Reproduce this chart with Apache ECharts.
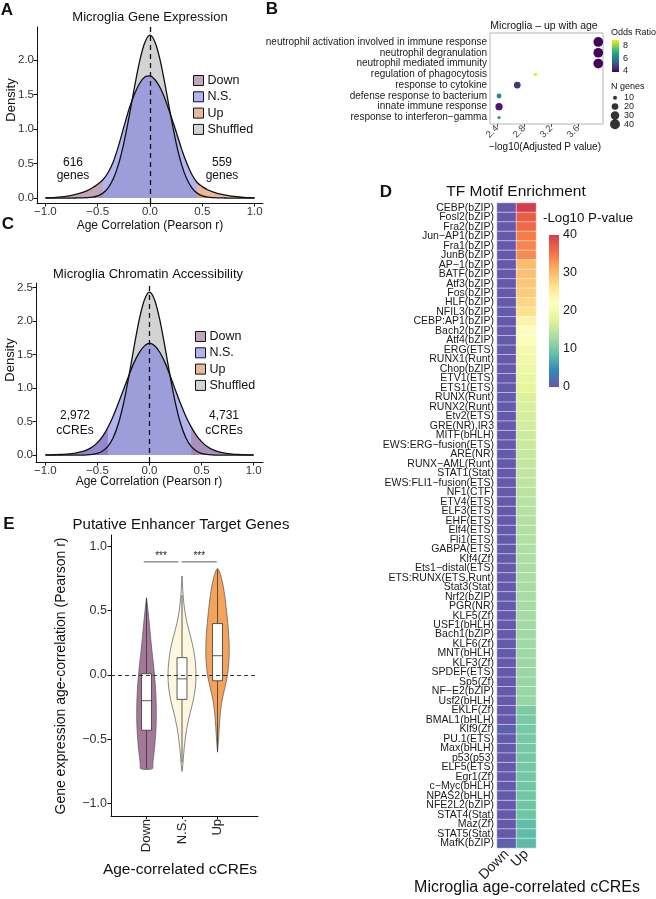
<!DOCTYPE html>
<html><head><meta charset="utf-8">
<script src="https://cdn.jsdelivr.net/npm/echarts@6/dist/echarts.min.js"></script>
<style>html,body{margin:0;padding:0;background:#fff}#c{width:656px;height:899px}</style>
</head><body><div id="c"></div>
<script>
// ---------------- Panel A / C : density curves ----------------
const densX = [-1.00,-0.95,-0.90,-0.85,-0.80,-0.75,-0.70,-0.65,-0.60,-0.55,-0.50,-0.45,-0.40,-0.35,-0.30,-0.25,-0.20,-0.15,-0.10,-0.05,0.00,0.05,0.10,0.15,0.20,0.25,0.30,0.35,0.40,0.45,0.50,0.55,0.60,0.65,0.70,0.75,0.80,0.85,0.90,0.95,1.00];
const geneObs = [0.003,0.006,0.010,0.016,0.025,0.038,0.055,0.078,0.108,0.148,0.200,0.265,0.370,0.530,0.760,1.030,1.290,1.500,1.660,1.755,1.770,1.710,1.590,1.410,1.190,0.960,0.720,0.510,0.340,0.225,0.165,0.120,0.088,0.065,0.048,0.035,0.024,0.015,0.009,0.005,0.003];
const geneShuf = [0,0,0,0,0,0,0.001,0.002,0.005,0.013,0.031,0.071,0.148,0.282,0.495,0.797,1.176,1.593,1.977,2.250,2.360,2.250,1.977,1.593,1.176,0.797,0.495,0.282,0.148,0.071,0.031,0.013,0.005,0.002,0.001,0,0,0,0,0,0];
const ccreObs = [0.002,0.003,0.005,0.008,0.013,0.020,0.032,0.050,0.078,0.120,0.185,0.280,0.410,0.575,0.770,0.975,1.180,1.375,1.525,1.625,1.670,1.630,1.530,1.375,1.175,0.965,0.760,0.575,0.420,0.295,0.200,0.130,0.085,0.055,0.035,0.022,0.014,0.009,0.005,0.003,0.002];
const ccreShuf = [0,0,0,0,0,0,0,0,0.003,0.010,0.025,0.059,0.128,0.255,0.463,0.768,1.160,1.600,2.010,2.310,2.430,2.310,2.010,1.600,1.160,0.768,0.463,0.255,0.128,0.059,0.025,0.010,0.003,0,0,0,0,0,0,0,0];
const geneThresh = [-0.45, 0.45];
const ccreThresh = [-0.40, 0.40];
const geneCounts = ['616', '559'];
const ccreCounts = ['2,972', '4,731'];
const densXTicks = [-1, -0.5, 0, 0.5, 1];
const geneYTicks = [0, 0.5, 1, 1.5, 2];
const ccreYTicks = [0, 0.5, 1, 1.5, 2, 2.5];
const densLegend = ['Down', 'N.S.', 'Up', 'Shuffled'];

// ---------------- Panel B : GO dot plot ----------------
const goTerms = ['neutrophil activation involved in immune response','neutrophil degranulation','neutrophil mediated immunity','regulation of phagocytosis','response to cytokine','defense response to bacterium','innate immune response','response to interferon\u2212gamma'];
const goP  = [3.90, 3.90, 3.90, 2.97, 2.70, 2.43, 2.43, 2.43];
const goN  = [38, 38, 38, 8, 20, 13, 23, 8];
const goOR = [3.9, 3.9, 3.9, 8.7, 4.6, 6.2, 4.2, 6.6];
const goXTicks = [2.4, 2.8, 3.2, 3.6];
const orTicks = [4, 6, 8];
const nGenesTicks = [10, 20, 30, 40];

// ---------------- Panel D : motif heatmap ----------------
const motifs = ['CEBP(bZIP)','Fosl2(bZIP)','Fra2(bZIP)','Jun\u2212AP1(bZIP)','Fra1(bZIP)','JunB(bZIP)','AP\u22121(bZIP)','BATF(bZIP)','Atf3(bZIP)','Fos(bZIP)','HLF(bZIP)','NFIL3(bZIP)','CEBP:AP1(bZIP)','Bach2(bZIP)','Atf4(bZIP)','ERG(ETS)','RUNX1(Runt)','Chop(bZIP)','ETV1(ETS)','ETS1(ETS)','RUNX(Runt)','RUNX2(Runt)','Etv2(ETS)','GRE(NR),IR3','MITF(bHLH)','EWS:ERG\u2212fusion(ETS)','ARE(NR)','RUNX\u2212AML(Runt)','STAT1(Stat)','EWS:FLI1\u2212fusion(ETS)','NF1(CTF)','ETV4(ETS)','ELF3(ETS)','EHF(ETS)','Elf4(ETS)','Fli1(ETS)','GABPA(ETS)','Klf4(Zf)','Ets1\u2212distal(ETS)','ETS:RUNX(ETS,Runt)','Stat3(Stat)','Nrf2(bZIP)','PGR(NR)','KLF5(Zf)','USF1(bHLH)','Bach1(bZIP)','KLF6(Zf)','MNT(bHLH)','KLF3(Zf)','SPDEF(ETS)','Sp5(Zf)','NF\u2212E2(bZIP)','Usf2(bHLH)','EKLF(Zf)','BMAL1(bHLH)','Klf9(Zf)','PU.1(ETS)','Max(bHLH)','p53(p53)','ELF5(ETS)','Egr1(Zf)','c\u2212Myc(bHLH)','NPAS2(bHLH)','NFE2L2(bZIP)','STAT4(Stat)','Maz(Zf)','STAT5(Stat)','MafK(bZIP)'];
const motifUp = [40,37,36,34.5,34,33.5,30,29.5,29,28.5, 27.5,26.5,24,22.5,21.5,20,19.5,19,18.5,18, 17,16.8,16.5,16.3,16,15.5,15.3,15.1,15,14.7, 14.5,14.3,14.1,14,13.9,13.8,13.7,13.5,13.4,13.3, 13.2,13.1,13,12.9,12.8,12.7,12.6,12.5,12.4,12.3, 12.2,12.1,12,10.2,10.1,10,10,9.9,9.8,9.8, 9.7,9.6,9.6,9.5,9.5,8.5,8.4,8.3];
const motifDown = [0,0,0,0,0,0,0,0,0,0, 0,0,0,0,0,0,0,0,0,0, 0,0,0,0,0,0,0,0,0,0, 0,0,0,0,0,0,0,0,0,0, 0,0,0,0,0,0,0,0,0,0, 0,0,0,0,0,0.8,0,0,0,0, 0,0,0,0,0,0,0,0.8];
const motifCols = ['Down', 'Up'];
const pvRange = [0, 40];

// ---------------- Panel E : violins ----------------
const violinCats = ['Down', 'N.S.', 'Up'];
const vDownY = [-0.73,-0.7,-0.65,-0.6,-0.5,-0.4,-0.3,-0.2,-0.1,0,0.1,0.2,0.3,0.4,0.5,0.55,0.6];
const vDownW = [0.163,0.175,0.192,0.214,0.248,0.270,0.276,0.270,0.254,0.225,0.189,0.149,0.113,0.079,0.042,0.023,0];
const vNsY = [-0.75,-0.7,-0.6,-0.5,-0.4,-0.3,-0.2,-0.1,0,0.1,0.2,0.3,0.4,0.5,0.6,0.7,0.77];
const vNsW = [0,0.023,0.051,0.090,0.146,0.225,0.315,0.375,0.394,0.375,0.324,0.239,0.146,0.079,0.037,0.014,0];
const vUpY = [-0.6,-0.5,-0.4,-0.3,-0.2,-0.1,0,0.1,0.2,0.3,0.4,0.5,0.6,0.7,0.78,0.82,0.83];
const vUpW = [0,0.028,0.051,0.079,0.127,0.206,0.282,0.318,0.330,0.318,0.290,0.254,0.211,0.155,0.085,0.028,0];
// [lower whisker, Q1, median, Q3, upper whisker]
const boxStats = [[-0.73,-0.43,-0.20,0.01,0.60],[-0.68,-0.19,-0.03,0.135,0.62],[-0.60,-0.045,0.15,0.40,0.82]];
const sigPairs = [[0.92, 1.90], [1.99, 2.98]];
const sigY = 0.88;
const sigLabel = '***';
const eYTicks = [-1, -0.5, 0, 0.5, 1];

// ================= rendering =================
const FONT = "'Liberation Sans', Arial, Helvetica, sans-serif";
const densColors = ['rgba(135,75,120,0.5)', 'rgba(103,103,225,0.5)', 'rgba(215,115,50,0.5)', 'rgba(168,168,168,0.5)'];
const violinColors = ['#a5789a', '#fdf7e0', '#f4a35c'];
const spectral = ['#6559aa','#3288bd','#66c2a5','#abdda4','#e6f598','#ffffbf','#fee08b','#fdae61','#f46d43','#d53e4f'];
const viridis = ['#440154','#482878','#3e4989','#31688e','#26828e','#1f9e89','#35b779','#6ece58','#b5de2b','#fde725'];
const violinY = [vDownY, vNsY, vUpY];
const violinW = [vDownW, vNsW, vUpW];
const boxHalf = 0.14;

function fmt(v, d) { return (v < 0 ? '\u2212' : '') + Math.abs(v).toFixed(d); }
function pairs(xs, ys, lo, hi) { const o = []; xs.forEach((x, i) => { if (x >= lo - 1e-9 && x <= hi + 1e-9) o.push([x, ys[i]]); }); return o; }
function sizeFn(n) { return Math.sqrt(Math.max(6, -12 + 2.8 * n)); }

const axLine = { show: true, onZero: false, lineStyle: { color: '#111', width: 1 } };
function valAxis(gi, min, max, ticks, d, extra) {
  return Object.assign({
    gridIndex: gi, type: 'value', min, max, axisLine: axLine,
    axisTick: { show: true, length: 3.5, lineStyle: { color: '#111' }, customValues: ticks },
    axisLabel: { customValues: ticks, formatter: v => fmt(v, d), fontSize: 11.5, color: '#333', margin: 3, fontFamily: FONT },
    splitLine: { show: false }
  }, extra || {});
}
function hiddenAxis(gi, min, max) { return { gridIndex: gi, type: 'value', min, max, show: false, splitLine: { show: false } }; }

const grids = [
  { left: 37, top: 27, width: 226, height: 176 },     // 0 A
  { left: 36, top: 283, width: 227, height: 179 },    // 1 C
  { left: 111, top: 535, width: 147, height: 281 },   // 2 E
  { left: 490, top: 33, width: 113, height: 91, show: true, borderColor: '#b5b5b5', borderWidth: 1, backgroundColor: '#fff' }, // 3 B
  { left: 612, top: 40, width: 7, height: 32 },       // 4 B colorbar
  { left: 609, top: 89, width: 12, height: 44 },      // 5 B size legend
  { left: 497, top: 203, width: 39, height: 645 },    // 6 D heatmap
  { left: 549, top: 235, width: 10, height: 152 }     // 7 D colorbar
];

const xAxes = [
  valAxis(0, -1.08, 1.08, densXTicks, 1),
  valAxis(1, -1.09, 1.09, densXTicks, 1),
  valAxis(2, 0, 4.14, [1, 2, 3], 0, { axisLabel: { customValues: [1, 2, 3], formatter: v => violinCats[Math.round(v) - 1] || '', rotate: 90, fontSize: 13, color: '#222', margin: 3, fontFamily: FONT }, axisTick: { show: true, length: 3, customValues: [1, 2, 3], lineStyle: { color: '#111' } } }),
  { gridIndex: 3, type: 'value', min: 2.296, max: 3.97, axisLine: { show: false }, splitLine: { show: false },
    axisTick: { show: true, length: 3, customValues: goXTicks, lineStyle: { color: '#555' } },
    axisLabel: { customValues: goXTicks, formatter: v => v.toFixed(1), rotate: 45, fontSize: 9.5, color: '#444', margin: 3, fontFamily: FONT } },
  hiddenAxis(4, 0, 1),
  hiddenAxis(5, 0, 1),
  { gridIndex: 6, type: 'category', data: motifCols, axisLine: { show: false }, axisTick: { show: false }, splitLine: { show: false },
    axisLabel: { interval: 0, rotate: 45, fontSize: 14, color: '#222', margin: 4, fontFamily: FONT } },
  hiddenAxis(7, 0, 1)
];
const yAxes = [
  valAxis(0, -0.072, 2.478, geneYTicks, 1),
  valAxis(1, -0.104, 2.567, ccreYTicks, 1),
  valAxis(2, -1.097, 1.089, eYTicks, 1, { axisLabel: { customValues: eYTicks, formatter: v => fmt(v, 1), fontSize: 12.5, color: '#333', margin: 4, fontFamily: FONT } }),
  { gridIndex: 3, type: 'value', inverse: true, min: 0.17, max: 8.6, axisLine: { show: false }, axisTick: { show: false }, splitLine: { show: false },
    axisLabel: { customValues: [1, 2, 3, 4, 5, 6, 7, 8], formatter: v => goTerms[Math.round(v) - 1] || '', fontSize: 10, color: '#1a1a1a', margin: 3, fontFamily: FONT } },
  { gridIndex: 4, type: 'value', min: 3.84, max: 8.9, position: 'right', axisLine: { show: false }, axisTick: { show: false }, splitLine: { show: false },
    axisLabel: { customValues: orTicks, formatter: v => String(v), fontSize: 9, color: '#222', margin: 4, fontFamily: FONT } },
  { gridIndex: 5, type: 'value', inverse: true, min: 0, max: 50, interval: 10, position: 'right', axisLine: { show: false }, axisTick: { show: false }, splitLine: { show: false },
    axisLabel: { formatter: v => nGenesTicks.indexOf(v) >= 0 ? String(v) : '', fontSize: 9, color: '#222', margin: 3, fontFamily: FONT } },
  { gridIndex: 6, type: 'category', data: motifs, inverse: true, axisLine: { show: false }, axisTick: { show: false }, splitLine: { show: false },
    axisLabel: { interval: 0, fontSize: 10.5, color: '#1a1a1a', margin: 3, fontFamily: FONT } },
  { gridIndex: 7, type: 'value', min: pvRange[0], max: pvRange[1], interval: 10, position: 'right', axisLine: { show: false }, axisTick: { show: false }, splitLine: { show: false },
    axisLabel: { fontSize: 12.5, color: '#1a1a1a', margin: 4, fontFamily: FONT } }
];

const series = [];
function densityPanel(gi, obs, shuf, thr, nsFull) {
  const area = (name, data, color) => ({ name, type: 'line', xAxisIndex: gi, yAxisIndex: gi, data, symbol: 'none', smooth: 0.3, silent: true,
    lineStyle: { opacity: 0 }, areaStyle: { color, opacity: 1 } });
  series.push(area('Shuffled', pairs(densX, shuf, -2, 2), densColors[3]));
  series.push(area('Down', pairs(densX, obs, -2, thr[0]), densColors[0]));
  series.push(area('Up', pairs(densX, obs, thr[1], 2), densColors[2]));
  series.push(area('N.S.', nsFull ? pairs(densX, obs, -2, 2) : pairs(densX, obs, thr[0], thr[1]), densColors[1]));
  const outline = (data, extra) => Object.assign({ type: 'line', xAxisIndex: gi, yAxisIndex: gi, data, symbol: 'none', smooth: 0.3, silent: true,
    lineStyle: { color: '#111', width: 1.3 } }, extra || {});
  series.push(outline(pairs(densX, shuf, -2, 2)));
  series.push(outline(pairs(densX, obs, -2, 2), {
    markLine: { silent: true, symbol: 'none', label: { show: false }, lineStyle: { color: '#111', type: [5, 4], width: 1.3 }, data: [{ xAxis: 0 }] }
  }));
}
densityPanel(0, geneObs, geneShuf, geneThresh, false);
densityPanel(1, ccreObs, ccreShuf, ccreThresh, true);

// Panel E violins + boxes
series.push({
  type: 'custom', xAxisIndex: 2, yAxisIndex: 2, silent: true, data: violinCats.map((c, i) => [i + 1, 0]),
  renderItem: (params, api) => {
    const i = params.dataIndex, c = i + 1;
    const ys = violinY[i], ws = violinW[i];
    const L = ys.map((y, k) => api.coord([c - ws[k], y]));
    const R = ys.map((y, k) => api.coord([c + ws[k], y])).reverse();
    const [wl, q1, med, q3, wh] = boxStats[i];
    const cm = v => api.coord([c, v]);
    const a = api.coord([c - boxHalf, q3]), b = api.coord([c + boxHalf, q1]);
    const m1 = api.coord([c - boxHalf, med]), m2 = api.coord([c + boxHalf, med]);
    return { type: 'group', children: [
      { type: 'polygon', shape: { points: L.concat(R), smooth: 0.35 }, style: { fill: violinColors[i], stroke: '#555', lineWidth: 0.7 } },
      { type: 'line', shape: { x1: cm(q3)[0], y1: cm(q3)[1], x2: cm(wh)[0], y2: cm(wh)[1] }, style: { stroke: '#333', lineWidth: 0.8 } },
      { type: 'line', shape: { x1: cm(q1)[0], y1: cm(q1)[1], x2: cm(wl)[0], y2: cm(wl)[1] }, style: { stroke: '#333', lineWidth: 0.8 } },
      { type: 'rect', shape: { x: a[0], y: a[1], width: b[0] - a[0], height: b[1] - a[1] }, style: { fill: '#fff', stroke: '#333', lineWidth: 0.8 } },
      { type: 'line', shape: { x1: m1[0], y1: m1[1], x2: m2[0], y2: m2[1] }, style: { stroke: '#333', lineWidth: 0.8 } }
    ] };
  },
  markLine: { silent: true, symbol: 'none', label: { show: false }, lineStyle: { color: '#222', type: [4, 3], width: 0.9 }, data: [{ yAxis: 0 }] }
});
series.push({
  type: 'custom', xAxisIndex: 2, yAxisIndex: 2, silent: true, data: sigPairs.map(p => [p[0], p[1]]),
  renderItem: (params, api) => {
    const a = api.coord([api.value(0), sigY]), b = api.coord([api.value(1), sigY]);
    return { type: 'group', children: [
      { type: 'line', shape: { x1: a[0], y1: a[1], x2: b[0], y2: b[1] }, style: { stroke: '#333', lineWidth: 0.8 } },
      { type: 'text', x: (a[0] + b[0]) / 2, y: a[1] - 1, style: { text: sigLabel, fontSize: 10, fontFamily: FONT, fill: '#222', align: 'center', verticalAlign: 'bottom' } }
    ] };
  }
});

// Panel B dots
const goSeriesIdx = series.length;
series.push({
  type: 'scatter', xAxisIndex: 3, yAxisIndex: 3, silent: true,
  data: goTerms.map((t, i) => [goP[i], i + 1, goN[i], goOR[i]]),
  symbolSize: v => sizeFn(v[2]), itemStyle: { opacity: 1 }
});
// B colour bar
function colorbarSeries(gi, lo, hi, colors) {
  return { type: 'custom', xAxisIndex: gi, yAxisIndex: gi, silent: true, data: [[lo, hi]],
    renderItem: (params, api) => {
      const a = api.coord([0, api.value(1)]), b = api.coord([1, api.value(0)]);
      const stops = colors.map((c, i) => ({ offset: i / (colors.length - 1), color: c }));
      return { type: 'rect', shape: { x: a[0], y: a[1], width: b[0] - a[0], height: b[1] - a[1] },
        style: { fill: new echarts.graphic.LinearGradient(0, 1, 0, 0, stops) } };
    } };
}
series.push(colorbarSeries(4, 3.84, 8.9, viridis));
// B size legend
series.push({ type: 'scatter', xAxisIndex: 5, yAxisIndex: 5, silent: true, data: nGenesTicks.map(n => [0.5, n]),
  symbolSize: v => sizeFn(v[1]), itemStyle: { color: '#000' } });

// Panel D heatmap
const heatIdx = series.length;
const heatData = [];
motifs.forEach((m, j) => { heatData.push([0, j, motifDown[j]]); heatData.push([1, j, motifUp[j]]); });
series.push({ type: 'heatmap', xAxisIndex: 6, yAxisIndex: 6, data: heatData, silent: true,
  itemStyle: { borderColor: 'rgba(255,255,255,0.85)', borderWidth: 0.6 } });
series.push(colorbarSeries(7, pvRange[0], pvRange[1], spectral));

function txt(text, x, y, size, o) {
  o = o || {};
  return { type: 'text', x, y, rotation: o.rot ? o.rot * Math.PI / 180 : 0, silent: true,
    style: { text, fontSize: size, fontFamily: FONT, fontWeight: o.bold ? 'bold' : 'normal', fill: o.color || '#111',
      align: o.align || 'center', verticalAlign: 'middle', textAlign: o.align || 'center', textVerticalAlign: 'middle' } };
}
const graphics = [
  txt('A', 7, 10, 17, { bold: true }),
  txt('B', 272, 9, 17, { bold: true }),
  txt('C', 8, 224, 17, { bold: true }),
  txt('D', 386, 192, 17, { bold: true }),
  txt('E', 9, 524, 17, { bold: true }),
  txt('Microglia Gene Expression', 150, 17, 13),
  txt('Microglia \u2013 up with age', 544, 26, 10.5),
  txt('Microglia Chromatin Accessibility', 148, 274, 13),
  txt('TF Motif Enrichment', 516, 192, 15.5),
  txt('Putative Enhancer Target Genes', 181, 525, 15),
  txt('Age Correlation (Pearson r)', 150, 226, 12),
  txt('Age Correlation (Pearson r)', 149, 482, 12),
  txt('Density', 11, 100, 13, { rot: 90 }),
  txt('Density', 10, 360, 13, { rot: 90 }),
  txt('\u2212log10(Adjusted P value)', 545, 147, 10),
  txt('Microglia age-correlated cCREs', 527, 888, 16),
  txt('Age-correlated cCREs', 180, 870, 15.5),
  txt('Gene expression age-correlation (Pearson r)', 61, 676, 14, { rot: 90 }),
  txt('Odds Ratio', 611, 33, 9, { align: 'left' }),
  txt('N genes', 611, 87, 9, { align: 'left' }),
  txt('-Log10 P-value', 543, 218, 13.3, { align: 'left' }),
  txt(geneCounts[0], 73, 163, 12), txt('genes', 73, 176, 12),
  txt(geneCounts[1], 222, 163, 12), txt('genes', 222, 176, 12),
  txt(ccreCounts[0], 75, 416, 12), txt('cCREs', 75, 431, 12),
  txt(ccreCounts[1], 224, 416, 12), txt('cCREs', 224, 431, 12)
];

function legendFor(left, top) {
  return { orient: 'vertical', left, top, itemWidth: 10, itemHeight: 10, itemGap: 3.3, icon: 'rect', selectedMode: false,
    textStyle: { fontSize: 12.5, color: '#111', fontFamily: FONT, lineHeight: 10, padding: [0, 0, 0, -1] },
    data: densLegend.map((n, i) => ({ name: n, icon: 'rect', itemStyle: { color: densColors[i], borderColor: '#111', borderWidth: 1 } })) };
}

const option = {
  animation: false,
  backgroundColor: '#fff',
  textStyle: { fontFamily: FONT },
  grid: grids,
  xAxis: xAxes,
  yAxis: yAxes,
  legend: [legendFor(188, 69), legendFor(190, 325)],
  visualMap: [
    { type: 'continuous', show: false, seriesIndex: goSeriesIdx, dimension: 3, min: 3.84, max: 8.9, inRange: { color: viridis } },
    { type: 'continuous', show: false, seriesIndex: heatIdx, dimension: 2, min: pvRange[0], max: pvRange[1], inRange: { color: spectral } }
  ],
  series,
  graphic: graphics
};
const chart = echarts.init(document.getElementById('c'), null, { renderer: 'canvas' });
chart.setOption(option);
</script></body></html>
